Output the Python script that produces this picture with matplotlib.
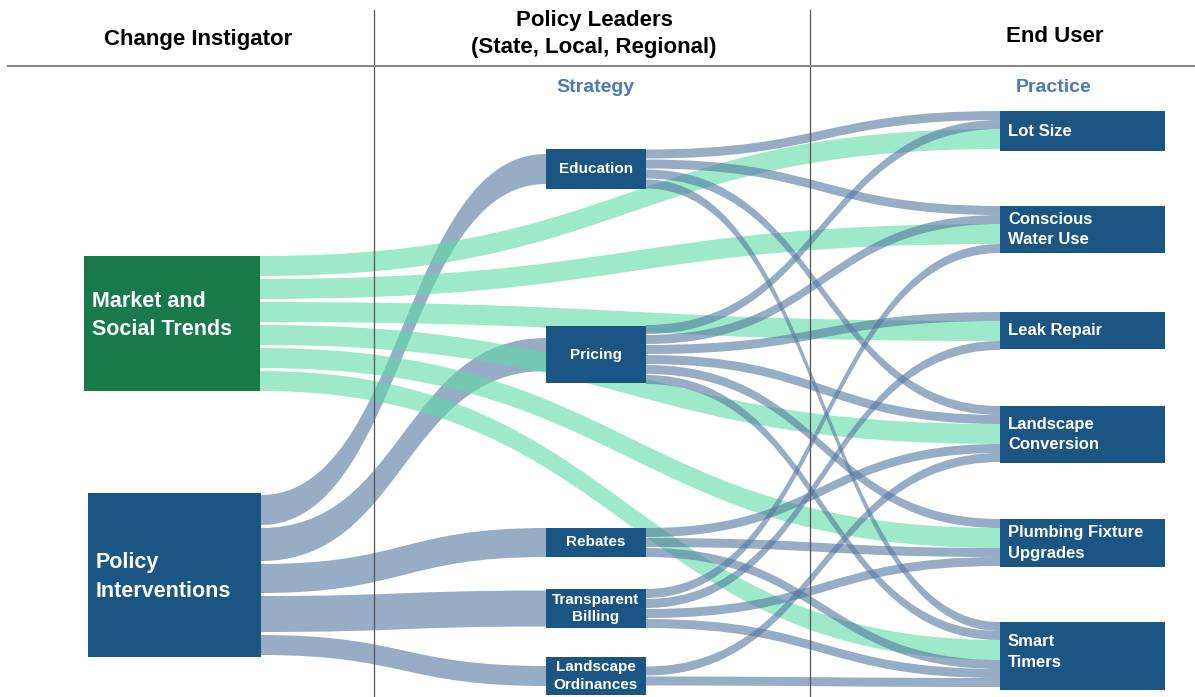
import matplotlib
matplotlib.use("Agg")
import matplotlib.pyplot as plt
from matplotlib.path import Path
from matplotlib.patches import PathPatch, Rectangle

plt.rcParams['font.family'] = ['Liberation Sans', 'DejaVu Sans']

# ---- data ----
instigators = ["Market and\nSocial Trends", "Policy\nInterventions"]
strategies = ["Education", "Pricing", "Rebates", "Transparent\nBilling", "Landscape\nOrdinances"]
practices = ["Lot Size", "Conscious\nWater Use", "Leak Repair", "Landscape\nConversion",
             "Plumbing Fixture\nUpgrades", "Smart\nTimers"]

# Policy Interventions -> each strategy (band widths)
policy_to_strategy = [30, 33, 29, 36, 20]
# Market and Social Trends -> each practice
market_to_practice = [20, 20, 20, 20, 20, 20]
# strategy -> practice links
strategy_links = [
    ("Education", "Lot Size"), ("Education", "Conscious\nWater Use"),
    ("Education", "Landscape\nConversion"), ("Education", "Smart\nTimers"),
    ("Pricing", "Lot Size"), ("Pricing", "Conscious\nWater Use"), ("Pricing", "Leak Repair"),
    ("Pricing", "Landscape\nConversion"), ("Pricing", "Plumbing Fixture\nUpgrades"),
    ("Pricing", "Smart\nTimers"),
    ("Rebates", "Landscape\nConversion"), ("Rebates", "Plumbing Fixture\nUpgrades"),
    ("Rebates", "Smart\nTimers"),
    ("Transparent\nBilling", "Conscious\nWater Use"), ("Transparent\nBilling", "Leak Repair"),
    ("Transparent\nBilling", "Plumbing Fixture\nUpgrades"), ("Transparent\nBilling", "Smart\nTimers"),
    ("Landscape\nOrdinances", "Landscape\nConversion"), ("Landscape\nOrdinances", "Smart\nTimers"),
]
strategy_link_value = 9

# ---- layout (pixel boxes: x, y_top, w, h) ----
boxes = {
    "Market and\nSocial Trends": (84, 256, 176, 135),
    "Policy\nInterventions": (88, 493, 173, 164),
    "Education": (546, 149, 100, 40),
    "Pricing": (546, 326, 100, 57),
    "Rebates": (546, 528, 100, 29),
    "Transparent\nBilling": (546, 589, 100, 39),
    "Landscape\nOrdinances": (546, 657, 100, 38),
    "Lot Size": (1000, 111, 165, 40),
    "Conscious\nWater Use": (1000, 206, 165, 47),
    "Leak Repair": (1000, 312, 165, 37),
    "Landscape\nConversion": (1000, 406, 165, 57),
    "Plumbing Fixture\nUpgrades": (1000, 519, 165, 48),
    "Smart\nTimers": (1000, 622, 165, 68),
}
text_shift = {"Market and\nSocial Trends": -8, "Policy\nInterventions": 2, "Smart\nTimers": -4}
BLUE = '#1b5584'
GREEN_BOX = '#177a48'
BAND_GRAY = '#52779f'
BAND_GREEN = '#5ddba5'
HEAD_BLUE = '#4a7ab8'

# build link list: (source, target, value, color)
links = []
for s, v in zip(strategies, policy_to_strategy):
    links.append((instigators[1], s, v, BAND_GRAY))
for p, v in zip(practices, market_to_practice):
    links.append((instigators[0], p, v, BAND_GREEN))
for s, p in strategy_links:
    links.append((s, p, strategy_link_value, BAND_GRAY))

# ordering of incoming bands at practice nodes
in_order = ["Education", "Pricing", instigators[0], "Rebates",
            "Transparent\nBilling", "Landscape\nOrdinances"]
node_rank = {n: i for i, n in enumerate(practices)}
node_rank.update({n: i for i, n in enumerate(strategies)})

src_y, tgt_y = {}, {}
# outgoing: stacked, centred on source box
for node in boxes:
    outs = [l for l in links if l[0] == node]
    if not outs:
        continue
    outs.sort(key=lambda l: node_rank[l[1]])
    gap = 3 if node in instigators else 1
    total = sum(l[2] for l in outs) + gap * (len(outs) - 1)
    x, y, w, h = boxes[node]
    cur = y + h / 2 - total / 2
    for l in outs:
        src_y[id(l)] = cur
        cur += l[2] + gap
# incoming
for node in boxes:
    ins = [l for l in links if l[1] == node]
    if not ins:
        continue
    x, y, w, h = boxes[node]
    if node in practices:
        ins.sort(key=lambda l: in_order.index(l[0]))
        cur = y
        for l in ins:
            tgt_y[id(l)] = cur
            cur += l[2]
    else:
        for l in ins:
            tgt_y[id(l)] = y + h / 2 - l[2] / 2

fig = plt.figure(figsize=(11.95, 6.97), dpi=100)
ax = fig.add_axes([0, 0, 1, 1])
ax.set_xlim(0, 1195)
ax.set_ylim(697, 0)
ax.axis("off")

for l in links:
    s, t, v, c = l
    x0 = boxes[s][0] + boxes[s][2]
    x1 = boxes[t][0]
    y0 = src_y[id(l)]
    y1 = tgt_y[id(l)]
    xm = (x0 + x1) / 2
    verts = [(x0, y0), (xm, y0), (xm, y1), (x1, y1),
             (x1, y1 + v), (xm, y1 + v), (xm, y0 + v), (x0, y0 + v), (x0, y0)]
    codes = [Path.MOVETO, Path.CURVE4, Path.CURVE4, Path.CURVE4, Path.LINETO,
             Path.CURVE4, Path.CURVE4, Path.CURVE4, Path.CLOSEPOLY]
    ax.add_patch(PathPatch(Path(verts, codes), facecolor=c, edgecolor='none',
                           alpha=0.6, zorder=2))

# column dividers
ax.plot([374, 374], [10, 697], color='#555555', lw=0.9, zorder=3)
ax.plot([810, 810], [10, 697], color='#555555', lw=0.9, zorder=3)
ax.plot([8, 1195], [66, 66], color='#8a8a8a', lw=1.5, zorder=3)

# nodes
for name, (x, y, w, h) in boxes.items():
    fc = GREEN_BOX if name == instigators[0] else BLUE
    ax.add_patch(Rectangle((x, y), w, h, facecolor=fc, edgecolor='none', zorder=4))
    ty = y + h / 2 + text_shift.get(name, 0)
    if name in instigators:
        ax.text(x + 8, ty, name, color='white', fontsize=15.5, fontweight='bold',
                ha='left', va='center', linespacing=1.45, zorder=5)
    elif name in strategies:
        ax.text(x + w / 2, ty, name, color='white', fontsize=11, fontweight='bold',
                ha='center', va='center', linespacing=1.35, zorder=5)
    else:
        ax.text(x + 8, ty, name, color='white', fontsize=12, fontweight='bold',
                ha='left', va='center', linespacing=1.45, zorder=5)

# headers
ax.text(198, 40, "Change Instigator", fontsize=16, fontweight='bold', ha='center', va='center')
ax.text(594, 34, "Policy Leaders\n(State, Local, Regional)", fontsize=16, fontweight='bold',
        ha='center', va='center', linespacing=1.4)
ax.text(1055, 36, "End User", fontsize=16, fontweight='bold', ha='center', va='center')
ax.text(595, 87, "Strategy", fontsize=14, fontweight='bold', color=HEAD_BLUE, ha='center', va='center')
ax.text(1054, 87, "Practice", fontsize=14, fontweight='bold', color=HEAD_BLUE, ha='center', va='center')

fig.savefig("out.png", dpi=100)
